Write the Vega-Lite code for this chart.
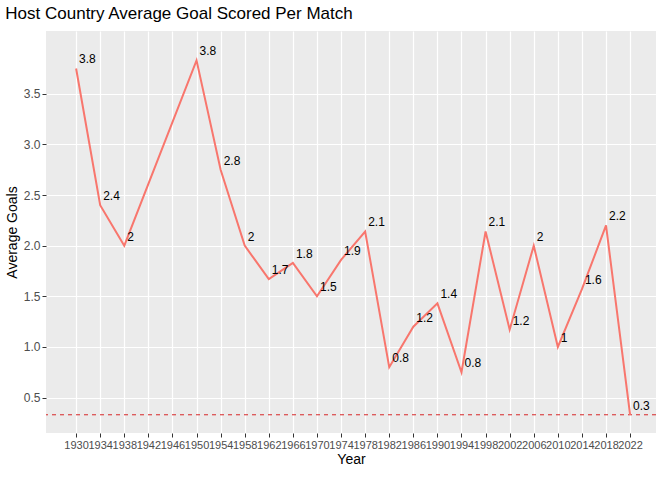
{
  "$schema": "https://vega.github.io/schema/vega-lite/v6.json",
  "width": 610,
  "height": 402,
  "background": "white",
  "padding": {"left": 5, "top": 5, "right": 12, "bottom": 5},
  "title": {"text": "Host Country Average Goal Scored Per Match", "anchor": "start", "font": "Liberation Sans", "fontSize": 17, "fontWeight": "normal", "color": "black", "offset": 8},
  "config": {
    "view": {"fill": "#EBEBEB", "stroke": null},
    "axis": {"gridColor": "white", "gridWidth": 1.2, "domain": false, "tickColor": "#333333", "tickSize": 4, "labelColor": "#4D4D4D", "labelFont": "Liberation Sans", "labelFontSize": 12, "titleFont": "Liberation Sans", "titleFontSize": 14, "titleFontWeight": "normal", "titleColor": "black"}
  },
  "data": {"values": [
    {"Year": 1930, "Goals": 3.75, "Label": "3.8"},
    {"Year": 1934, "Goals": 2.4, "Label": "2.4"},
    {"Year": 1938, "Goals": 2.0, "Label": "2"},
    {"Year": 1950, "Goals": 3.83, "Label": "3.8"},
    {"Year": 1954, "Goals": 2.75, "Label": "2.8"},
    {"Year": 1958, "Goals": 2.0, "Label": "2"},
    {"Year": 1962, "Goals": 1.67, "Label": "1.7"},
    {"Year": 1966, "Goals": 1.83, "Label": "1.8"},
    {"Year": 1970, "Goals": 1.5, "Label": "1.5"},
    {"Year": 1974, "Goals": 1.86, "Label": "1.9"},
    {"Year": 1978, "Goals": 2.14, "Label": "2.1"},
    {"Year": 1982, "Goals": 0.8, "Label": "0.8"},
    {"Year": 1986, "Goals": 1.2, "Label": "1.2"},
    {"Year": 1990, "Goals": 1.43, "Label": "1.4"},
    {"Year": 1994, "Goals": 0.75, "Label": "0.8"},
    {"Year": 1998, "Goals": 2.14, "Label": "2.1"},
    {"Year": 2002, "Goals": 1.17, "Label": "1.2"},
    {"Year": 2006, "Goals": 2.0, "Label": "2"},
    {"Year": 2010, "Goals": 1.0, "Label": "1"},
    {"Year": 2014, "Goals": 1.57, "Label": "1.6"},
    {"Year": 2018, "Goals": 2.2, "Label": "2.2"},
    {"Year": 2022, "Goals": 0.33, "Label": "0.3"}
  ]},
  "encoding": {
    "x": {"field": "Year", "type": "quantitative", "title": "Year",
      "scale": {"domain": [1925, 2026.3], "nice": false, "zero": false},
      "axis": {"values": [1930,1934,1938,1942,1946,1950,1954,1958,1962,1966,1970,1974,1978,1982,1986,1990,1994,1998,2002,2006,2010,2014,2018,2022], "format": "d", "labelFlush": false, "labelOverlap": false, "labelFontSize": 11, "titlePadding": 2}},
    "y": {"field": "Goals", "type": "quantitative", "title": "Average Goals",
      "scale": {"domain": [0.15, 4.12], "nice": false, "zero": false},
      "axis": {"values": [0.5,1,1.5,2,2.5,3,3.5], "format": ".1f"}}
  },
  "layer": [
    {"mark": {"type": "rule", "color": "#D62728", "strokeDash": [4, 4], "strokeWidth": 1},
     "data": {"values": [{"y": 0.33}]},
     "encoding": {"y": {"field": "y", "type": "quantitative"}, "x": null}},
    {"mark": {"type": "line", "color": "#F8766D", "strokeWidth": 2}},
    {"mark": {"type": "text", "align": "left", "baseline": "bottom", "dx": 3, "dy": -2, "font": "Liberation Sans", "fontSize": 12, "color": "black"},
     "encoding": {"text": {"field": "Label"}}}
  ]
}
